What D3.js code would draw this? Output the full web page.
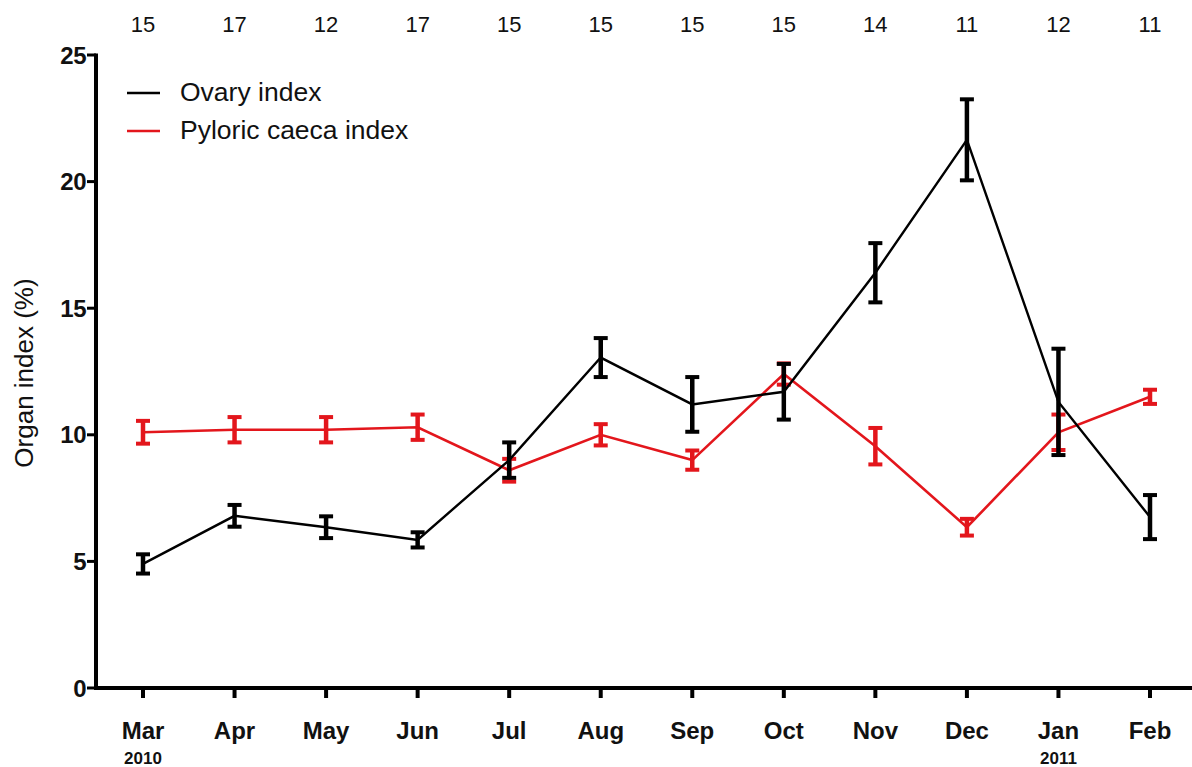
<!DOCTYPE html>
<html><head><meta charset="utf-8">
<script src="https://cdn.jsdelivr.net/npm/d3@7"></script>
<style>body{margin:0;background:#fff}svg{display:block}</style>
</head><body>
<svg id="c" width="1192" height="767"></svg>
<script>
const months = ["Mar","Apr","May","Jun","Jul","Aug","Sep","Oct","Nov","Dec","Jan","Feb"];
const yearLabels = ["2010","","","","","","","","","","2011",""];
const nCounts = [15,17,12,17,15,15,15,15,14,11,12,11];
const ovaryMean = [4.9,6.8,6.35,5.85,9.0,13.05,11.2,11.7,16.4,21.65,11.3,6.75];
const ovarySem  = [0.38,0.43,0.43,0.3,0.7,0.77,1.08,1.1,1.17,1.6,2.1,0.87];
const pyloricMean = [10.1,10.2,10.2,10.3,8.6,10.0,9.0,12.4,9.55,6.35,10.1,11.5];
const pyloricSem  = [0.45,0.5,0.5,0.5,0.45,0.42,0.38,0.42,0.72,0.33,0.7,0.28];
const yTicks = [0,5,10,15,20,25];
const seriesNames = ["Ovary index","Pyloric caeca index"];

const FONT = "Liberation Sans, Arial, sans-serif";
const svg = d3.select("#c");
const black = "#000", red = "#e3161c";
const x = d3.scalePoint().domain(months).range([143,1150]).padding(0);
const y = d3.scaleLinear().domain([0,25]).range([688,55]);
const axisLeft = 96, axisRight = 1192;

// axes lines
svg.append("line").attr("x1",axisLeft).attr("x2",axisLeft).attr("y1",y(25)-1.5).attr("y2",y(0)+2)
  .attr("stroke",black).attr("stroke-width",4);
svg.append("line").attr("x1",axisLeft-2).attr("x2",axisRight).attr("y1",y(0)).attr("y2",y(0))
  .attr("stroke",black).attr("stroke-width",4);

// y ticks
const yAxis = svg.append("g");
yAxis.selectAll("line").data(yTicks).join("line")
  .attr("x1",axisLeft-9).attr("x2",axisLeft).attr("y1",d=>y(d)).attr("y2",d=>y(d))
  .attr("stroke",black).attr("stroke-width",3);
yAxis.selectAll("text").data(yTicks).join("text")
  .attr("x",axisLeft-10).attr("y",d=>y(d)).attr("dy","0.36em").attr("text-anchor","end")
  .attr("font-family",FONT).attr("font-weight","bold").attr("font-size",24).attr("letter-spacing",-0.5)
  .attr("fill","#111").text(d=>d);

// x ticks
const xAxis = svg.append("g");
xAxis.selectAll("line").data(months).join("line")
  .attr("x1",d=>x(d)).attr("x2",d=>x(d)).attr("y1",y(0)).attr("y2",y(0)+10)
  .attr("stroke",black).attr("stroke-width",4);
xAxis.selectAll("text.m").data(months).join("text").attr("class","m")
  .attr("x",d=>x(d)).attr("y",739).attr("text-anchor","middle")
  .attr("font-family",FONT).attr("font-weight","bold").attr("font-size",24)
  .attr("fill","#111").text(d=>d);
xAxis.selectAll("text.yr").data(months).join("text").attr("class","yr")
  .attr("x",d=>x(d)).attr("y",764).attr("text-anchor","middle")
  .attr("font-family",FONT).attr("font-weight","bold").attr("font-size",17)
  .attr("fill","#111").text((d,i)=>yearLabels[i]);

// top counts
svg.append("g").selectAll("text").data(months).join("text")
  .attr("x",d=>x(d)).attr("y",32).attr("text-anchor","middle")
  .attr("font-family",FONT).attr("font-size",22)
  .attr("fill","#111").text((d,i)=>nCounts[i]);

// y title
svg.append("text").attr("transform","translate(33,373) rotate(-90)").attr("text-anchor","middle")
  .attr("font-family",FONT).attr("font-size",26).attr("fill","#111")
  .text("Organ index (%)");

function drawSeries(mean, sem, color, lw){
  const g = svg.append("g");
  const pts = months.map((m,i)=>({m, v:mean[i], e:sem[i]}));
  const line = d3.line().x(d=>x(d.m)).y(d=>y(d.v));
  g.append("path").datum(pts).attr("d",line).attr("fill","none").attr("stroke",color).attr("stroke-width",lw);
  const eb = g.selectAll("g.eb").data(pts).join("g");
  eb.append("line").attr("x1",d=>x(d.m)).attr("x2",d=>x(d.m)).attr("y1",d=>y(d.v+d.e)).attr("y2",d=>y(d.v-d.e))
    .attr("stroke",color).attr("stroke-width",4.5);
  [1,-1].forEach(s=>{
    eb.append("line").attr("x1",d=>x(d.m)-7).attr("x2",d=>x(d.m)+7)
      .attr("y1",d=>y(d.v+s*d.e)).attr("y2",d=>y(d.v+s*d.e))
      .attr("stroke",color).attr("stroke-width",4);
  });
}
drawSeries(pyloricMean, pyloricSem, red, 2.6);
drawSeries(ovaryMean, ovarySem, black, 2.4);

// legend
const leg = svg.append("g");
[black, red].forEach((c,i)=>{
  leg.append("line").attr("x1",127).attr("x2",160).attr("y1",93+i*38).attr("y2",93+i*38)
    .attr("stroke",c).attr("stroke-width",2.6);
  leg.append("text").attr("x",180).attr("y",101+i*38)
    .attr("font-family",FONT).attr("font-size",26.5).attr("fill","#111")
    .text(seriesNames[i]);
});
</script>
</body></html>
